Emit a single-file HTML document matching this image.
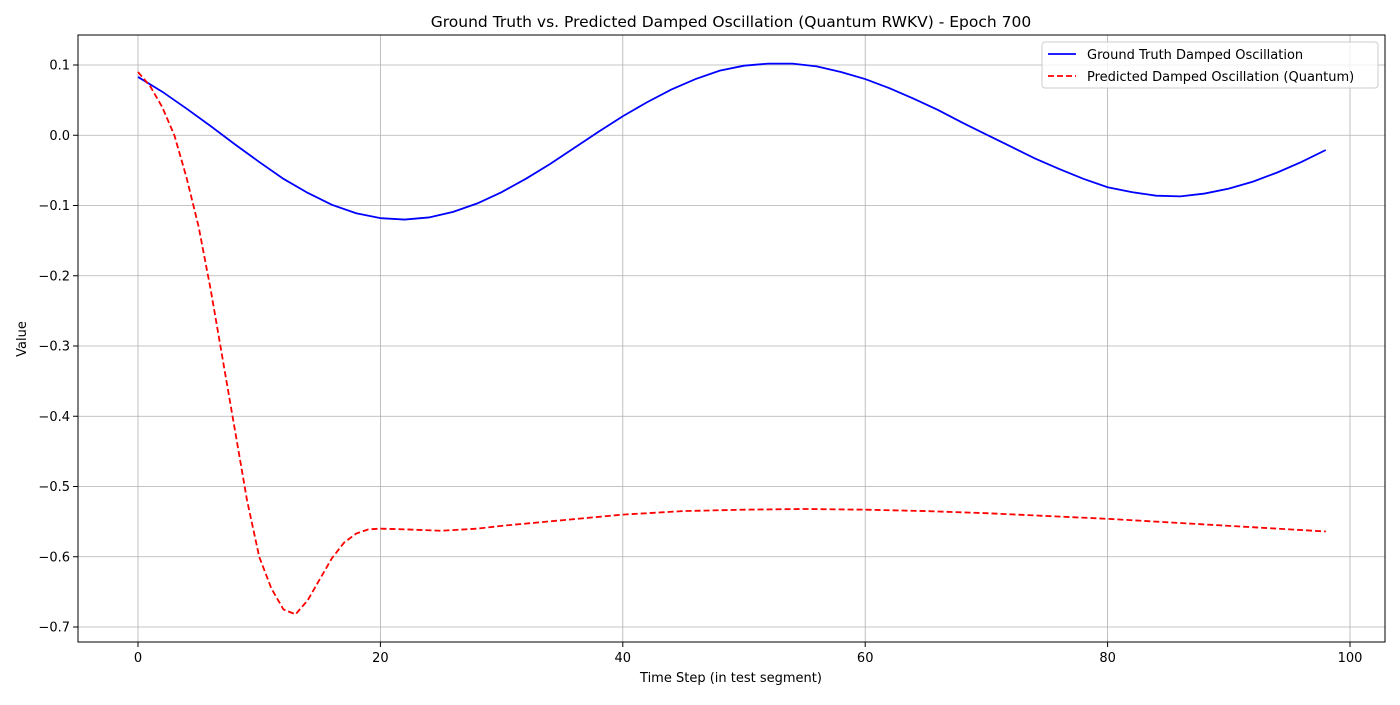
<!DOCTYPE html>
<html><head><meta charset="utf-8">
<style>
body{margin:0;background:#fff;}
svg text{font-family:"DejaVu Sans","Liberation Sans",sans-serif;fill:#000;}
</style></head>
<body>
<svg id="chart" width="1400" height="700" xmlns="http://www.w3.org/2000/svg">
<rect width="1400" height="700" fill="#fff"/>
<g id="grid"></g>
<g id="series"></g>
<rect x="78" y="35" width="1307" height="607" fill="none" stroke="#000" stroke-width="1"/>
<g id="ticks"></g>
<text x="731" y="27" font-size="15.5" text-anchor="middle">Ground Truth vs. Predicted Damped Oscillation (Quantum RWKV) - Epoch 700</text>
<text x="731" y="682" font-size="13" text-anchor="middle">Time Step (in test segment)</text>
<text transform="translate(26,339) rotate(-90)" font-size="13" text-anchor="middle">Value</text>
<g>
<rect x="1042" y="42" width="336" height="46" rx="3" fill="#fff" fill-opacity="0.8" stroke="#ccc"/>
<line x1="1048" y1="54" x2="1076" y2="54" stroke="#0000ff" stroke-width="1.8"/>
<text x="1087" y="59" font-size="13">Ground Truth Damped Oscillation</text>
<line x1="1048" y1="76" x2="1076" y2="76" stroke="#ff0000" stroke-width="1.8" stroke-dasharray="6,3"/>
<text x="1087" y="81" font-size="13">Predicted Damped Oscillation (Quantum)</text>
</g>
</svg>
<script>
const xTicks=[0,20,40,60,80,100];
const yTicks=[0.1,0.0,-0.1,-0.2,-0.3,-0.4,-0.5,-0.6,-0.7];
const truthX=[0,2,4,6,8,10,12,14,16,18,20,22,24,26,28,30,32,34,36,38,40,42,44,46,48,50,52,54,56,58,60,62,64,66,68,70,72,74,76,78,80,82,84,86,88,90,92,94,96,98];
const truthY=[.083,.062,.038,.013,-.013,-.038,-.062,-.082,-.099,-.111,-.118,-.120,-.117,-.109,-.097,-.081,-.062,-.041,-.018,.005,.027,.047,.065,.080,.092,.099,.102,.102,.098,.090,.080,.067,.052,.036,.018,.001,-.016,-.033,-.048,-.062,-.074,-.081,-.086,-.087,-.083,-.076,-.066,-.053,-.038,-.021];
const predX=[0,1,2,3,4,5,6,7,8,9,10,11,12,13,14,15,16,17,18,19,20,22,25,28,30,35,40,45,50,55,60,65,70,75,80,85,90,95,98];
const predY=[.09,.07,.04,0.0,-.06,-.13,-.22,-.32,-.42,-.52,-.60,-.645,-.675,-.682,-.662,-.632,-.602,-.58,-.567,-.561,-.56,-.561,-.563,-.56,-.556,-.548,-.54,-.535,-.533,-.532,-.533,-.535,-.538,-.542,-.546,-.551,-.556,-.561,-.564];
const X=v=>138+v*12.12;
const Y=v=>135.25-v*702.5;
const NS='http://www.w3.org/2000/svg';
const grid=document.getElementById('grid'),ticks=document.getElementById('ticks'),series=document.getElementById('series');
function mk(tag,attrs,parent){const e=document.createElementNS(NS,tag);for(const k in attrs)e.setAttribute(k,attrs[k]);parent.appendChild(e);return e;}
xTicks.forEach(t=>{
 const g=mk('line',{x1:X(t),x2:X(t),y1:35,y2:642,stroke:'#b0b0b0','stroke-width':0.8},grid);
 
 
 const tk=mk('line',{x1:X(t),x2:X(t),y1:642,y2:647,stroke:'#000'},ticks);
 
 
 const tx=mk('text',{x:X(t),y:662,'font-size':13,'text-anchor':'middle'},ticks);
 tx.textContent=String(t);
 
 
});
yTicks.forEach(t=>{
 const g=mk('line',{x1:78,x2:1385,y1:Y(t),y2:Y(t),stroke:'#b0b0b0','stroke-width':0.8},grid);
 
 
 const tk=mk('line',{x1:73,x2:78,y1:Y(t),y2:Y(t),stroke:'#000'},ticks);
 
 
 const tx=mk('text',{x:70,y:Y(t)+4.5,'font-size':13,'text-anchor':'end'},ticks);
 tx.textContent=(t<0?'\u2212':'')+Math.abs(t).toFixed(1);
 
 
});
const p1=mk('polyline',{points:truthX.map((x,i)=>X(x)+','+Y(truthY[i])).join(' '),fill:'none',stroke:'#0000ff','stroke-width':1.8},series);


const p2=mk('polyline',{points:predX.map((x,i)=>X(x)+','+Y(predY[i])).join(' '),fill:'none',stroke:'#ff0000','stroke-width':1.8,'stroke-dasharray':'6,3'},series);


</script>
</body></html>
